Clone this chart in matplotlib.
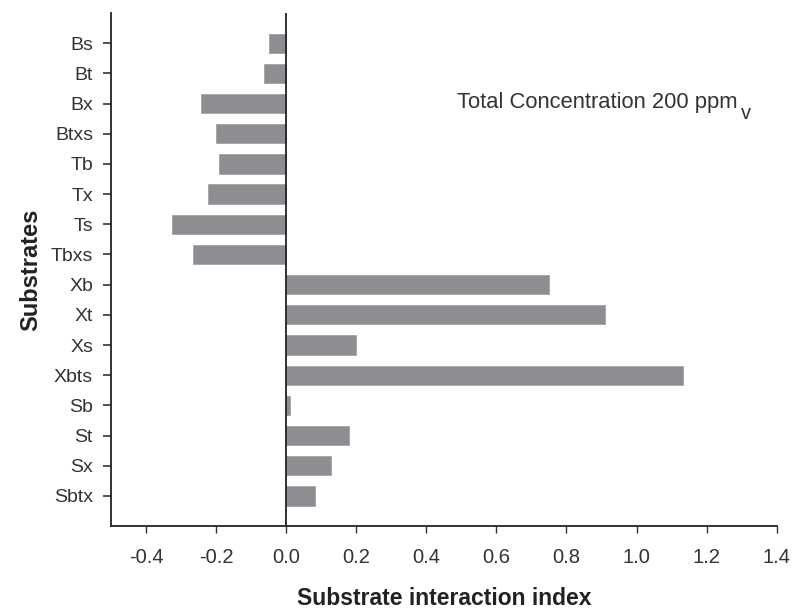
import matplotlib
matplotlib.use("Agg")
import matplotlib.pyplot as plt

plt.rcParams['font.family'] = ['Liberation Sans', 'DejaVu Sans']

substrates = ["Bs", "Bt", "Bx", "Btxs", "Tb", "Tx", "Ts", "Tbxs",
              "Xb", "Xt", "Xs", "Xbts", "Sb", "St", "Sx", "Sbtx"]
index_values = [-0.049, -0.063, -0.243, -0.199, -0.193, -0.223, -0.325, -0.265,
                0.751, 0.909, 0.198, 1.134, 0.012, 0.179, 0.129, 0.082]
xticks = [-0.4, -0.2, 0.0, 0.2, 0.4, 0.6, 0.8, 1.0, 1.2, 1.4]

fig = plt.figure(figsize=(7.93, 6.11), dpi=100)
ax = fig.add_axes([0.140, 0.139, 0.8394, 0.8396])

pos = list(range(len(substrates)))
ax.barh(pos, index_values, height=0.64, color='#8e8e92', edgecolor='#a4a4a8', linewidth=0.6, zorder=2)
ax.axvline(0, color='#222222', linewidth=1.3, zorder=3)

ax.set_xlim(-0.5, 1.4)
ax.set_ylim(16, -1)
ax.set_yticks(pos)
ax.set_yticklabels(substrates, fontsize=14, color='#333333')
ax.set_xticks(xticks)
ax.set_xticklabels([f"{t:.1f}" for t in xticks], fontsize=14.5, color='#333333')

for s in ['top', 'right']:
    ax.spines[s].set_visible(False)
for s in ['left', 'bottom']:
    ax.spines[s].set_color('#222222')
    ax.spines[s].set_linewidth(1.3)

ax.tick_params(axis='y', length=5.5, width=1.2, color='#333333', pad=7.5)
ax.tick_params(axis='x', length=5, width=1.0, color='#333333', pad=11)

ax.set_xlabel('Substrate interaction index', fontsize=16.5, fontweight='bold', color='#222222', labelpad=14)
ax.set_ylabel('Substrates', fontsize=17, fontweight='bold', color='#222222', labelpad=6)

main = ax.text(0.889, 2.16, 'Total Concentration 200 ppm', fontsize=15.8,
               color='#333333', ha='center', va='baseline')
ax.annotate('v', xy=(1, 0), xycoords=main, xytext=(2, -4), textcoords='offset points',
            fontsize=14.5, color='#333333', ha='left', va='baseline')

fig.savefig('out.png', dpi=100)
